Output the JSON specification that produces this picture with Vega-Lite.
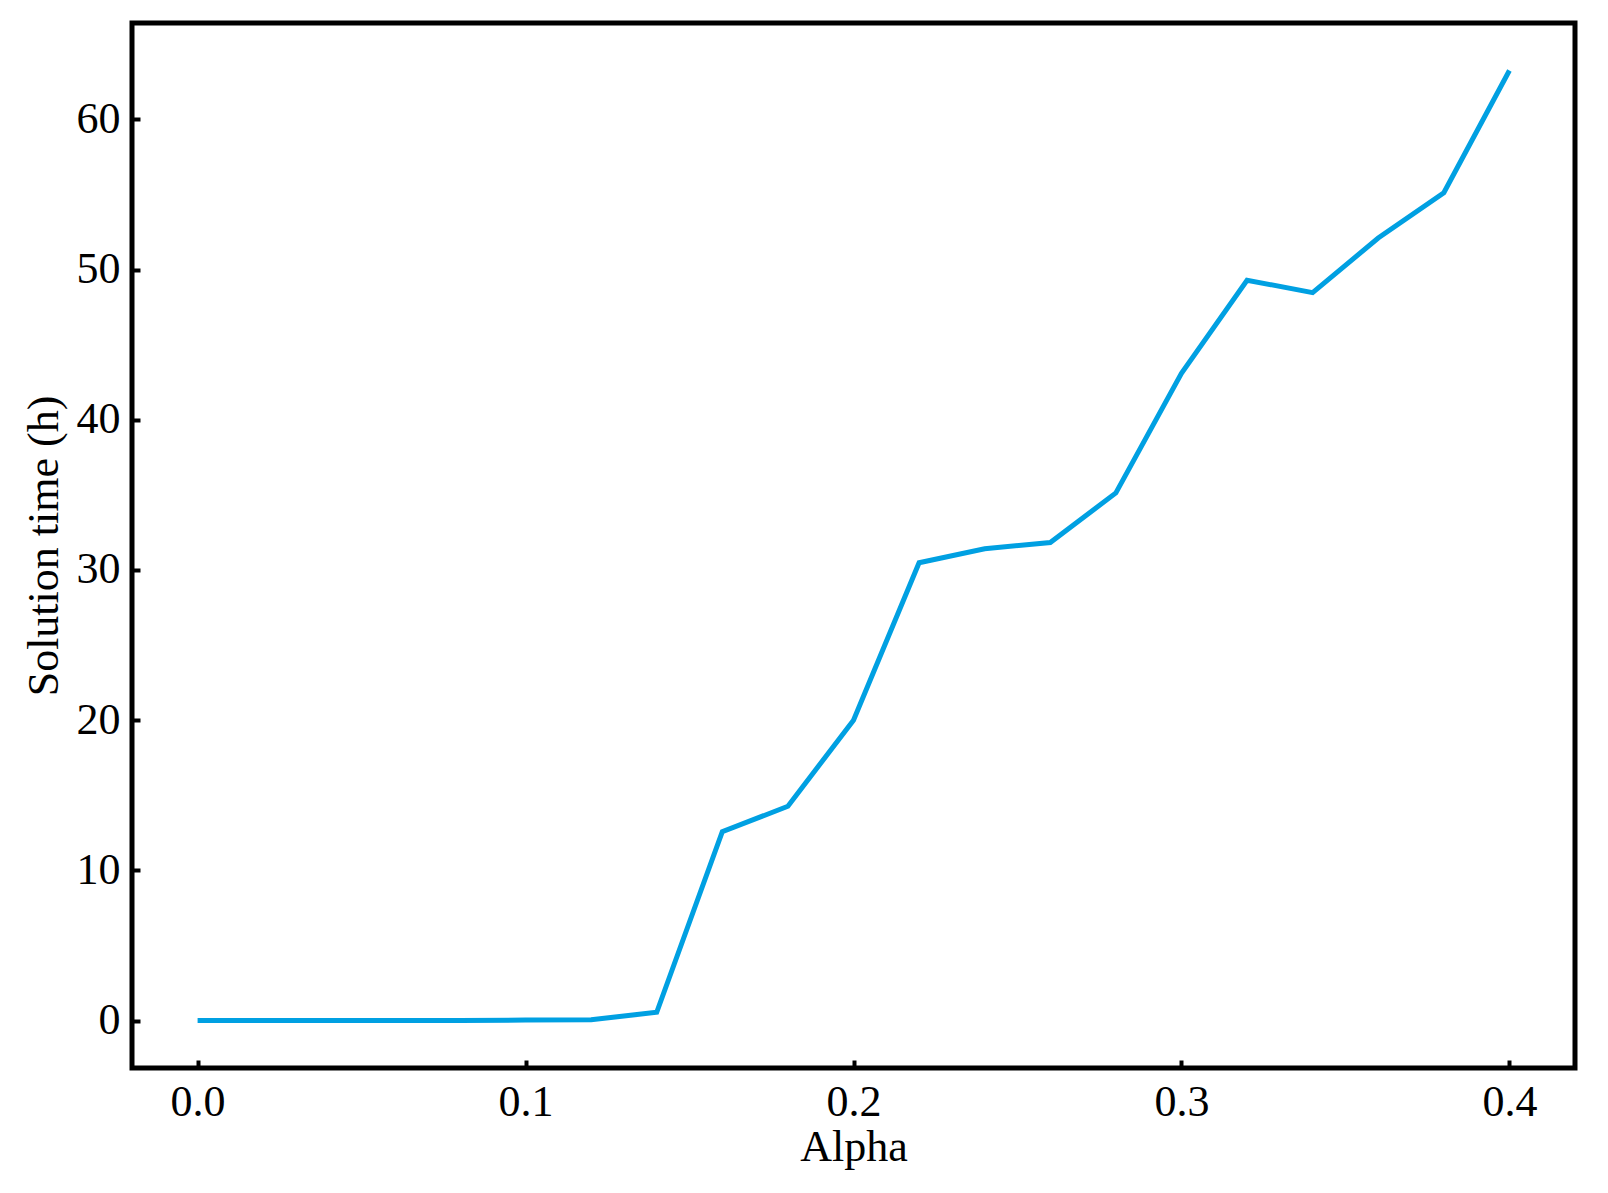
{
  "$schema": "https://vega.github.io/schema/vega-lite/v6.json",
  "autosize": {"type": "none"},
  "padding": {"left": 132, "top": 23, "right": 33, "bottom": 125},
  "width": 1443,
  "height": 1045,
  "background": "white",
  "config": {
    "view": {"stroke": "black", "strokeWidth": 5},
    "axis": {
      "labelFont": "Liberation Serif",
      "titleFont": "Liberation Serif",
      "labelFontSize": 44,
      "titleFontSize": 44,
      "labelColor": "black",
      "titleColor": "black",
      "titleFontWeight": "normal",
      "grid": false,
      "domain": false,
      "tickColor": "black",
      "tickWidth": 4,
      "tickSize": -8,
      "labelPadding": 20
    }
  },
  "data": {
    "values": [
      {"alpha": 0.00, "time": 0},
      {"alpha": 0.02, "time": 0},
      {"alpha": 0.04, "time": 0},
      {"alpha": 0.06, "time": 0},
      {"alpha": 0.08, "time": 0},
      {"alpha": 0.10, "time": 0.03},
      {"alpha": 0.12, "time": 0.05},
      {"alpha": 0.14, "time": 0.55},
      {"alpha": 0.16, "time": 12.57},
      {"alpha": 0.18, "time": 14.27},
      {"alpha": 0.20, "time": 20.0},
      {"alpha": 0.22, "time": 30.48},
      {"alpha": 0.24, "time": 31.41},
      {"alpha": 0.26, "time": 31.83},
      {"alpha": 0.28, "time": 35.13},
      {"alpha": 0.30, "time": 43.09},
      {"alpha": 0.32, "time": 49.29},
      {"alpha": 0.34, "time": 48.47},
      {"alpha": 0.36, "time": 52.1},
      {"alpha": 0.38, "time": 55.12},
      {"alpha": 0.40, "time": 63.26}
    ]
  },
  "mark": {"type": "line", "color": "#00A0E2", "strokeWidth": 5, "strokeJoin": "miter"},
  "encoding": {
    "x": {
      "field": "alpha",
      "type": "quantitative",
      "scale": {"domain": [-0.02, 0.42], "nice": false, "zero": false},
      "axis": {"title": "Alpha", "values": [0, 0.1, 0.2, 0.3, 0.4], "format": ".1f", "titlePadding": 1}
    },
    "y": {
      "field": "time",
      "type": "quantitative",
      "scale": {"domain": [-3.16, 66.42], "nice": false, "zero": false},
      "axis": {"title": "Solution time (h)", "values": [0, 10, 20, 30, 40, 50, 60], "format": "d", "titlePadding": 10}
    }
  }
}
